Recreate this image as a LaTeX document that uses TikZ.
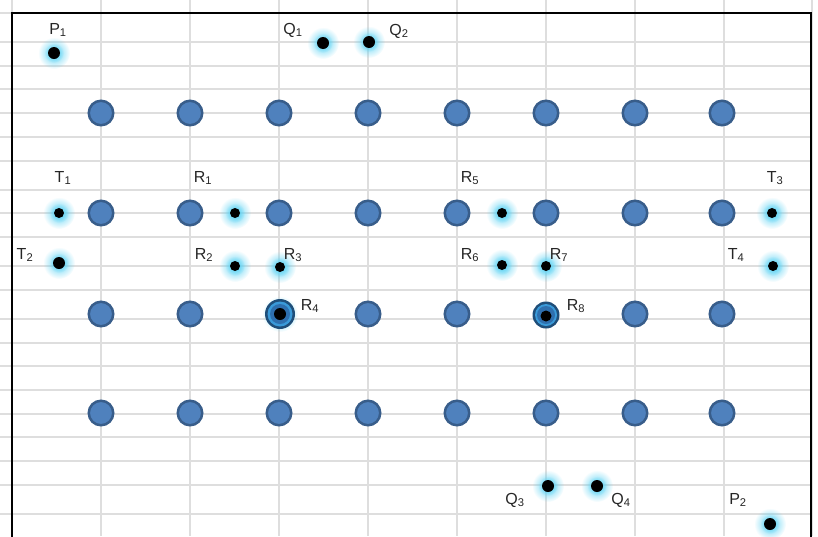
\documentclass[tikz,border=0pt]{standalone}
\usepackage{fontspec}
\setmainfont{Liberation Sans}
\usetikzlibrary{fadings}
\definecolor{gridc}{HTML}{DEDEDE}
\definecolor{bfill}{HTML}{4F81BD}
\definecolor{bdraw}{HTML}{385D8A}
\definecolor{sfill}{HTML}{2E6FAE}
\definecolor{sring}{HTML}{3A9AD9}
\definecolor{sdraw}{HTML}{1F4E79}
\definecolor{glowc}{HTML}{5FD3F3}
\definecolor{txtc}{HTML}{262626}
\tikzfading[name=glowfade, inner color=transparent!0, outer color=transparent!100]
\tikzset{
  bigc/.style={circle, fill=bfill, draw=bdraw, line width=2.5pt, minimum size=24.5pt, inner sep=0pt},
  dotc/.style={circle, fill=black, inner sep=0pt, minimum size=#1},
  dotc/.default=10pt,
  lbl/.style={font=\fontsize{16}{18}\selectfont, text=txtc, inner sep=0pt},
  gridline/.style={gridc, line width=1.3pt}
}
\newcommand{\glowat}[2]{\fill[glowc, path fading=glowfade] (#1) circle (#2);
  \fill[glowc, path fading=glowfade] (#1) circle (10);}
\begin{document}
\begin{tikzpicture}[x=1pt, y=-1pt]
\useasboundingbox (0,0) rectangle (818,536);
% grid
\foreach \gx in {12,101,190,279,368,457,546,635,724,812}
  \draw[gridline] (\gx,0) -- (\gx,536);
\foreach \gy in {13,42,66,89,113,137,161,190,213,237,266,290,319,343,366,390,414,437,461,485,514}
  \draw[gridline] (0,\gy) -- (812,\gy);
% border
\draw[black, line width=2.8pt] (12,540) -- (12,13) -- (811,13) -- (811,540);
% big circles
\foreach \cx [count=\i] in {101,190,279,368,457,546,635,722} {
  \node[bigc] (a\i) at (\cx,113) {};
  \node[bigc] (b\i) at (\cx,213) {};
  \node[bigc] (d\i) at (\cx,413) {};
}
\foreach \cx/\i in {101/1,190/2,368/4,457/5,635/7,722/8}
  \node[bigc] (c\i) at (\cx,314) {};
% special circles R4, R8
\glowat{280,314}{18}
\node[circle, fill=sdraw, inner sep=0pt, minimum size=30pt] (r4) at (280,314) {};
\node[circle, fill=sring, inner sep=0pt, minimum size=25pt] (r4ring) at (r4) {};
\node[circle, fill=sfill, inner sep=0pt, minimum size=20pt] (r4in) at (r4) {};
\node[dotc=12pt] (r4dot) at (r4) {};
\node[circle, fill=sdraw, inner sep=0pt, minimum size=27pt] (r8) at (546,315) {};
\node[circle, fill=sring, inner sep=0pt, minimum size=22pt] (r8ring) at (r8) {};
\node[circle, fill=sfill, inner sep=0pt, minimum size=18pt] (r8in) at (r8) {};
\node[dotc=11pt] (r8dot) at (546,316) {};
% glowing dots
\foreach \nm/\px/\py/\ds in {p1/54/53/12pt, q1/323/43/12pt, q2/369/42/12pt,
  t1/59/213/10pt, t2/59/263/12pt, r1/235/213/10pt, r2/235/266/10pt, r3/280/267/10pt,
  r5/502/213/10pt, r6/502/265/10pt, r7/546/266/10pt, t3/772/213/10pt, t4/773/266/10pt,
  q3/548/486/12pt, q4/597/486/12pt, p2/770/524/12pt} {
  \glowat{\px,\py}{16}
  \node[dotc=\ds] (\nm) at (\px,\py) {};
}
% labels
\node[lbl] (lp1) at (58,30) {P\textsubscript{1}};
\node[lbl] (lq1) at (293,30) {Q\textsubscript{1}};
\node[lbl] (lq2) at (399,31) {Q\textsubscript{2}};
\node[lbl] (lt1) at (63,178) {T\textsubscript{1}};
\node[lbl] (lt2) at (25,255) {T\textsubscript{2}};
\node[lbl] (lr1) at (203,178) {R\textsubscript{1}};
\node[lbl] (lr2) at (204,255) {R\textsubscript{2}};
\node[lbl] (lr3) at (293,255) {R\textsubscript{3}};
\node[lbl] (lr4) at (310,306) {R\textsubscript{4}};
\node[lbl] (lr5) at (470,178) {R\textsubscript{5}};
\node[lbl] (lr6) at (470,255) {R\textsubscript{6}};
\node[lbl] (lr7) at (559,255) {R\textsubscript{7}};
\node[lbl] (lr8) at (576,306) {R\textsubscript{8}};
\node[lbl] (lt3) at (775,178) {T\textsubscript{3}};
\node[lbl] (lt4) at (736,255) {T\textsubscript{4}};
\node[lbl] (lq3) at (515,500) {Q\textsubscript{3}};
\node[lbl] (lq4) at (621,500) {Q\textsubscript{4}};
\node[lbl] (lp2) at (738,500) {P\textsubscript{2}};
\end{tikzpicture}
\end{document}
